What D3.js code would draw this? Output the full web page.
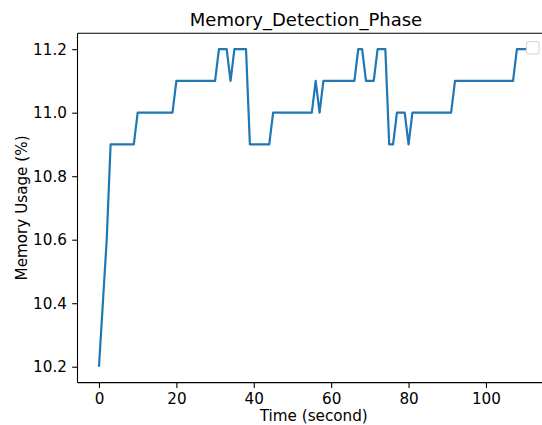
<!DOCTYPE html>
<html>
<head>
<meta charset="utf-8">
<script src="https://cdn.jsdelivr.net/npm/d3@7"></script>
<style>
  html, body { margin: 0; padding: 0; background: #fff; }
  svg { display: block; font-family: "DejaVu Sans", sans-serif; }
</style>
</head>
<body>
<svg id="chart" width="542" height="425"></svg>
<script>
// ---- data ----
const times = [0,1,2,3,4,5,6,7,8,9,10,11,12,13,14,15,16,17,18,19,20,21,22,23,24,25,26,27,28,29,30,31,32,33,34,35,36,37,38,39,40,41,42,43,44,45,46,47,48,49,50,51,52,53,54,55,56,57,58,59,60,61,62,63,64,65,66,67,68,69,70,71,72,73,74,75,76,77,78,79,80,81,82,83,84,85,86,87,88,89,90,91,92,93,94,95,96,97,98,99,100,101,102,103,104,105,106,107,108,109,110,111];
const memoryUsage = [
  10.2,10.4,10.6,10.9,10.9,10.9,10.9,10.9,10.9,10.9,
  11.0,11.0,11.0,11.0,11.0,11.0,11.0,11.0,11.0,11.0,
  11.1,11.1,11.1,11.1,11.1,11.1,11.1,11.1,11.1,11.1,
  11.1,11.2,11.2,11.2,11.1,11.2,11.2,11.2,11.2,10.9,
  10.9,10.9,10.9,10.9,10.9,11.0,11.0,11.0,11.0,11.0,
  11.0,11.0,11.0,11.0,11.0,11.0,11.1,11.0,11.1,11.1,
  11.1,11.1,11.1,11.1,11.1,11.1,11.1,11.2,11.2,11.1,
  11.1,11.1,11.2,11.2,11.2,10.9,10.9,11.0,11.0,11.0,
  10.9,11.0,11.0,11.0,11.0,11.0,11.0,11.0,11.0,11.0,
  11.0,11.0,11.1,11.1,11.1,11.1,11.1,11.1,11.1,11.1,
  11.1,11.1,11.1,11.1,11.1,11.1,11.1,11.1,11.2,11.2,
  11.2,11.2
];
const xTicks = [0, 20, 40, 60, 80, 100];
const yTicks = [10.2, 10.4, 10.6, 10.8, 11.0, 11.2];
const titleText = "Memory_Detection_Phase";
const xLabelText = "Time (second)";
const yLabelText = "Memory Usage (%)";

// ---- layout ----
const plotLeft = 77.5, plotRight = 550, plotTop = 33.3, plotBottom = 382.6;
const svg = d3.select("#chart");

const xMin = d3.min(times), xMax = d3.max(times);
const xPad = (xMax - xMin) * 0.05;
const yMin = d3.min(memoryUsage), yMax = d3.max(memoryUsage);
const yPad = (yMax - yMin) * 0.05;

const x = d3.scaleLinear().domain([xMin - xPad, xMax + xPad]).range([plotLeft, plotRight]);
const y = d3.scaleLinear().domain([yMin - yPad, yMax + yPad]).range([plotBottom, plotTop]);

const tickLen = 5.3, tickPad = 5.3, tickFont = 15.2;

// clip
svg.append("defs").append("clipPath").attr("id", "clip")
  .append("rect").attr("x", plotLeft).attr("y", plotTop).attr("width", plotRight - plotLeft).attr("height", plotBottom - plotTop);

// line
const line = d3.line().x((d, i) => x(times[i])).y(d => y(d));
svg.append("path")
  .datum(memoryUsage)
  .attr("clip-path", "url(#clip)")
  .attr("fill", "none")
  .attr("stroke", "#1f77b4")
  .attr("stroke-width", 2.2)
  .attr("stroke-linejoin", "round")
  .attr("stroke-linecap", "butt")
  .attr("d", line);

// axes
const xAxis = d3.axisBottom(x).tickValues(xTicks).tickSize(tickLen).tickPadding(tickPad).tickSizeOuter(0)
  .tickFormat(d3.format("d"));
const gx = svg.append("g").attr("transform", `translate(0,${plotBottom})`).call(xAxis);
gx.select(".domain").remove();
gx.selectAll(".tick line").attr("stroke", "#000").attr("stroke-width", 1.1);
gx.selectAll(".tick text").attr("fill", "#000").style("font-size", tickFont + "px").style("font-family", "DejaVu Sans");

const yAxis = d3.axisLeft(y).tickValues(yTicks).tickSize(tickLen).tickPadding(tickPad).tickSizeOuter(0)
  .tickFormat(d3.format(".1f"));
const gy = svg.append("g").attr("transform", `translate(${plotLeft},0)`).call(yAxis);
gy.select(".domain").remove();
gy.selectAll(".tick line").attr("stroke", "#000").attr("stroke-width", 1.1);
gy.selectAll(".tick text").attr("fill", "#000").style("font-size", tickFont + "px").style("font-family", "DejaVu Sans");

// spines (right spine lies beyond the canvas)
const spines = svg.append("g").attr("fill", "none").attr("stroke", "#000").attr("stroke-width", 1.1);
spines.append("line").attr("x1", plotLeft).attr("x2", plotLeft).attr("y1", plotTop).attr("y2", plotBottom);
spines.append("line").attr("x1", plotLeft).attr("x2", plotRight).attr("y1", plotTop).attr("y2", plotTop);
spines.append("line").attr("x1", plotLeft).attr("x2", plotRight).attr("y1", plotBottom).attr("y2", plotBottom);
spines.append("line").attr("x1", plotRight).attr("x2", plotRight).attr("y1", plotTop).attr("y2", plotBottom);

// empty legend frame
svg.append("rect")
  .attr("x", 526.5).attr("y", 41.5).attr("width", 12.5).attr("height", 12.5)
  .attr("rx", 2.5).attr("fill", "#fff").attr("stroke", "#d6d6d6").attr("stroke-width", 1.1);

// title & labels
svg.append("text").attr("x", 306).attr("y", 26)
  .attr("text-anchor", "middle").style("font-size", "18px").attr("fill", "#000").text(titleText);
svg.append("text").attr("x", (plotLeft + plotRight) / 2).attr("y", 420.5)
  .attr("text-anchor", "middle").style("font-size", tickFont + "px").attr("fill", "#000").text(xLabelText);
svg.append("text").attr("transform", `translate(26.5,${(plotTop + plotBottom) / 2}) rotate(-90)`)
  .attr("text-anchor", "middle").style("font-size", tickFont + "px").attr("fill", "#000").text(yLabelText);
</script>
</body>
</html>
